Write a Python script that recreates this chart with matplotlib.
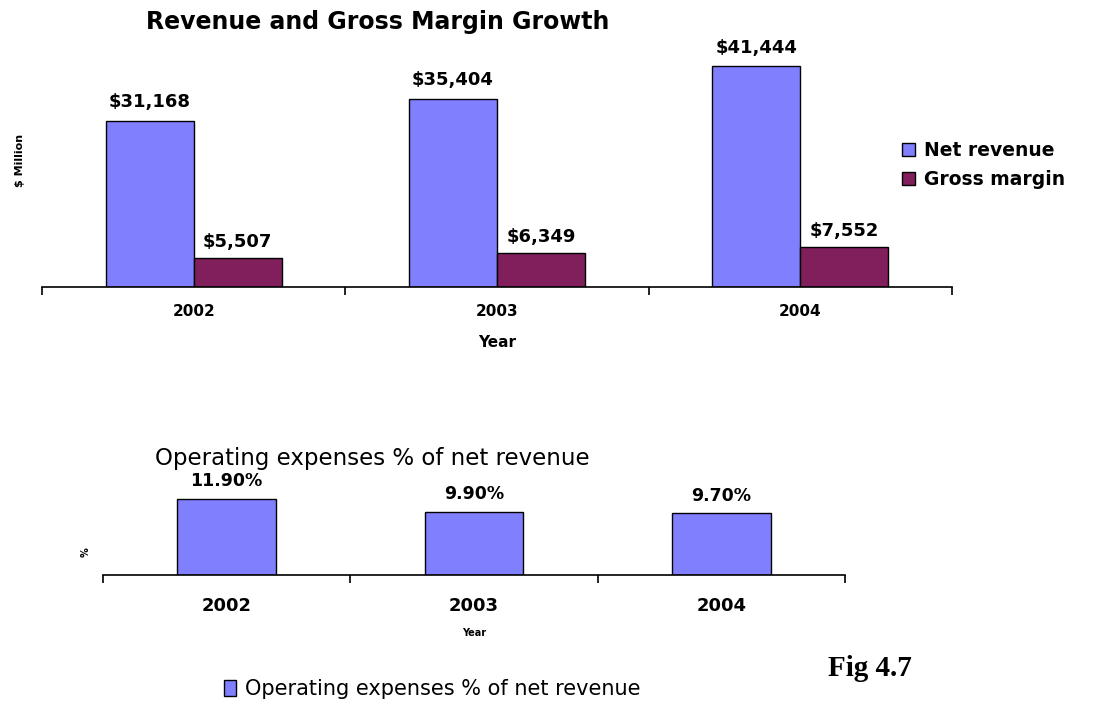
import matplotlib
matplotlib.use('Agg')
import matplotlib.pyplot as plt
import numpy as np
from matplotlib.patches import Patch

# data
years = ['2002', '2003', '2004']
net_revenue = [31168, 35404, 41444]
gross_margin = [5507, 6349, 7552]
opex_pct = [11.9, 9.9, 9.7]

blue = '#8080FF'
plum = '#801F5C'

W, H = 1101, 704
fig = plt.figure(figsize=(W / 100, H / 100), dpi=100)
plt.rcParams['font.family'] = ['DejaVu Sans']


def px_axes(x0, y_top, x1, y_bot):
    return fig.add_axes([x0 / W, 1 - y_bot / H, (x1 - x0) / W, (y_bot - y_top) / H])


def style_axis(ax, pad, size):
    for s in ['top', 'right', 'left']:
        ax.spines[s].set_visible(False)
    ax.spines['bottom'].set_linewidth(1.2)
    ax.set_yticks([])
    ax.set_xlim(-0.5, 2.5)
    ax.set_xticks([-0.5, 0.5, 1.5, 2.5])
    ax.set_xticklabels([])
    ax.tick_params(axis='x', which='major', direction='out', length=6, width=1.2)
    ax.set_xticks([0, 1, 2], minor=True)
    ax.set_xticklabels(years, minor=True, fontweight='bold', fontsize=size)
    ax.tick_params(axis='x', which='minor', length=0, pad=pad)


# ---- top chart: revenue and gross margin ----
ax1 = px_axes(42, 40, 952, 287)
x = np.arange(len(years))
w = 0.29
b1 = ax1.bar(x - w / 2, net_revenue, w, color=blue, edgecolor='black', linewidth=1)
b2 = ax1.bar(x + w / 2, gross_margin, w, color=plum, edgecolor='black', linewidth=1)
ax1.set_ylim(0, 46400)
style_axis(ax1, 12, 11)
for rect, v in zip(b1, net_revenue):
    ax1.annotate(f'${v:,}', (rect.get_x() + rect.get_width() / 2, v), xytext=(0, 7),
                 textcoords='offset points', ha='center', va='bottom',
                 fontweight='bold', fontsize=13)
for rect, v in zip(b2, gross_margin):
    ax1.annotate(f'${v:,}', (rect.get_x() + rect.get_width() / 2, v), xytext=(0, 5),
                 textcoords='offset points', ha='center', va='bottom',
                 fontweight='bold', fontsize=13)
ax1.set_xlabel('Year', fontweight='bold', fontsize=11, labelpad=12)
fig.text(20 / W, 1 - 160 / H, '$ Million', rotation=90, ha='center', va='center',
         fontweight='bold', fontsize=8)
fig.text(378 / W, 1 - 22 / H, 'Revenue and Gross Margin Growth', ha='center',
         va='center', fontweight='bold', fontsize=17)
fig.legend([Patch(facecolor=blue, edgecolor='black'), Patch(facecolor=plum, edgecolor='black')],
           ['Net revenue', 'Gross margin'], loc='center left',
           bbox_to_anchor=(885 / W, 1 - 165 / H), frameon=False,
           prop={'weight': 'bold', 'size': 13.5}, handlelength=0.7, handleheight=0.7,
           handletextpad=0.5, labelspacing=0.5)

# ---- bottom chart: operating expenses ----
ax2 = px_axes(103, 486, 845, 575)
b3 = ax2.bar(x, opex_pct, 0.4, color=blue, edgecolor='black', linewidth=1)
ax2.set_ylim(0, 13.9)
style_axis(ax2, 16, 13)
for rect, v in zip(b3, opex_pct):
    ax2.annotate(f'{v:.2f}%', (rect.get_x() + rect.get_width() / 2, v), xytext=(0, 6),
                 textcoords='offset points', ha='center', va='bottom',
                 fontweight='bold', fontsize=12.5)
ax2.set_xlabel('Year', fontweight='bold', fontsize=7, labelpad=9)
fig.text(86 / W, 1 - 552 / H, '%', rotation=90, ha='center', va='center',
         fontweight='bold', fontsize=7)
fig.text(372 / W, 1 - 459 / H, 'Operating expenses % of net revenue', ha='center',
         va='center', fontsize=16.5)
fig.legend([Patch(facecolor=blue, edgecolor='black')],
           ['Operating expenses % of net revenue'], loc='center left',
           bbox_to_anchor=(205 / W, 1 - 689 / H), frameon=False,
           prop={'size': 15}, handlelength=0.6, handleheight=0.8, handletextpad=0.4)
fig.text(870 / W, 1 - 669 / H, 'Fig 4.7', ha='center', va='center',
         family='Liberation Serif', fontweight='bold', fontsize=21)

fig.savefig('out.png', dpi=100)
